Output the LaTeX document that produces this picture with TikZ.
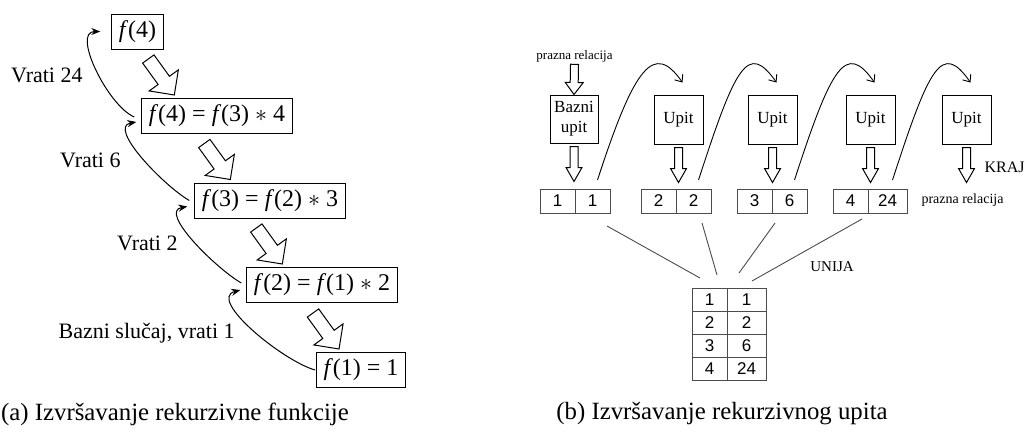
\documentclass[tikz,border=0pt]{standalone}
\usepackage{fontspec}
\setmainfont{Liberation Serif}
\newfontfamily\numfont{Liberation Sans}
\usetikzlibrary{calc,positioning,arrows.meta}
\definecolor{cellgray}{gray}{0.3}

\newcommand\blockarrow[5]{%
  \path let \p1=($#5-#4$) in \pgfextra{%
    \pgfmathparse{atan2(\y1,\x1)}\xdef\baang{\pgfmathresult}%
    \pgfmathparse{veclen(\x1,\y1)}\xdef\balen{\pgfmathresult}};
  \begin{scope}[shift={#4},rotate=\baang]
    \draw[fill=white,line width=0.5pt] (0pt,-#1pt) -- ({\balen pt-#3pt},-#1pt) -- ({\balen pt-#3pt},-#2pt)
      -- (\balen pt,0pt) -- ({\balen pt-#3pt},#2pt) -- ({\balen pt-#3pt},#1pt) -- (0pt,#1pt) -- cycle;
  \end{scope}}

\begin{document}
\begin{tikzpicture}[x=0.5pt,y=0.5pt,
    fbox/.style={draw,line width=0.5pt,minimum height=17.5pt,inner xsep=3.5pt,inner ysep=0pt,font=\fontsize{12}{14}\selectfont},
    lbl/.style={anchor=east,inner sep=0pt,font=\fontsize{11}{13}\selectfont},
    back/.style={line width=0.5pt,looseness=0.8,-{Stealth[length=4.5pt,width=3.5pt]}},
    qbox/.style={draw,line width=0.5pt,minimum width=24.5pt,minimum height=24.5pt,inner sep=0pt,align=center,font=\fontsize{8.5}{10}\selectfont},
    cell/.style={draw=cellgray,line width=0.5pt,minimum width=17.5pt,minimum height=12pt,inner sep=0pt,outer sep=0pt,font=\numfont\fontsize{8.5}{10}\selectfont},
    wide/.style={minimum width=19.5pt},
    note/.style={inner sep=0pt,font=\fontsize{6.5}{8}\selectfont},
    hop/.style={line width=0.45pt,-{Straight Barb[length=3pt,width=5pt]}},
    union/.style={line width=0.45pt,draw=cellgray},
    caption/.style={font=\fontsize{12.4}{15}\selectfont}]
\useasboundingbox (0,0) rectangle (1027,436);

\node[fbox] (f4) at (137.5,404.5) {\textit{f}(4)};
\node[fbox] (f43) at (217,320) {\textit{f}(4) = \textit{f}(3) $*$ 4};
\node[fbox] (f32) at (270,235.5) {\textit{f}(3) = \textit{f}(2) $*$ 3};
\node[fbox] (f21) at (322,151) {\textit{f}(2) = \textit{f}(1) $*$ 2};
\node[fbox] (f1) at (361,66) {\textit{f}(1) = 1};

\coordinate (h1) at ($(f43.north west)+(33,3)$);
\coordinate (h2) at ($(f32.north west)+(36,3)$);
\coordinate (h3) at ($(f21.north west)+(36,3)$);
\coordinate (h4) at ($(f1.north west)+(23,3)$);
\foreach \i in {1,...,4}{
  \coordinate (t\i) at ($(h\i)+(-26,36)$);
  \blockarrow{3.5}{9}{9}{(t\i)}{(h\i)}
}

\draw[back] ($(f43.west)+(-7,-1)$) to[out=157,in=180] ($(f4.west)+(-11,0)$);
\draw[back] ($(f32.west)+(-5,0)$) to[out=150,in=190] ($(f43.west)+(-5,-6)$);
\draw[back] ($(f21.west)+(-5,2)$) to[out=150,in=190] ($(f32.west)+(-7,-6)$);
\draw[back] ($(f1.west)+(-1,0)$) to[out=164,in=195] ($(f21.west)+(-6,-5)$);

\node[lbl] (v24) at (83,361) {Vrati 24};
\node[lbl] (v6) at (121,276) {Vrati 6};
\node[lbl] (v2) at (178,193) {Vrati 2};
\node[lbl] (v1) at (235,103) {Bazni slučaj, vrati 1};
\node[caption] (capa) at (175,22) {(a) Izvršavanje rekurzivne funkcije};

\node[note] (pr1) at (574.5,380) {prazna relacija};
\node[qbox,minimum width=24pt,minimum height=24pt] (bazni) at (574,317) {Bazni\\upit};
\foreach \i/\x in {1/678.5,2/772.5,3/870.5,4/966.5}
  \node[qbox] (upit\i) at (\x,316.5) {Upit};
\coordinate (pr1t) at ($(pr1.south)+(0,-2)$);
\blockarrow{2}{4.5}{6}{(pr1t)}{(bazni.north)}
\foreach \q in {bazni,upit1,upit2,upit3,upit4}{
  \coordinate (s\q) at ($(\q.south)+(0,-3)$);
  \coordinate (e\q) at ($(\q.south)+(0,-38)$);
  \blockarrow{2}{4}{7}{(s\q)}{(e\q)}
}

\foreach \i/\x/\l/\r in {1/557.5/1/1,2/658.5/2/2,3/754.5/3/6}{
  \node[cell] (l\i) at (\x,235) {\l};
  \node[cell,right=0pt of l\i] (r\i) {\r};
}
\node[cell] (l4) at (850.5,235) {4};
\node[cell,wide,right=0pt of l4] (r4) {24};

\foreach \l/\r [count=\i] in {1/1,2/2,3/6,4/24}{
  \node[cell,minimum height=11.5pt] (tl\i) at (709.5,159.5-23*\i) {\l};
  \node[cell,wide,minimum height=11.5pt,right=0pt of tl\i] (tr\i) {\r};
}

\draw[union] ($(r1.south)+(14.5,-13)$) -- ($(tl1.north west)+(8,10)$);
\draw[union] ($(r2.south)+(8.5,-10)$) -- ($(tl1.north east)+(-10,13)$);
\draw[union] ($(l3.south east)+(3,-10)$) -- ($(tr1.north west)+(12,15)$);
\draw[union] ($(l4.south east)+(-6,-6)$) -- ($(tr1.north)+(5.5,7)$);

\foreach \i in {1,...,4}
  \draw[hop] ($(r\i.north)+(5,9)$) .. controls +(72:120) and +(125:50) .. ($(upit\i.north)+(4,12)$);

\node[font=\fontsize{7.5}{9}\selectfont] (unija) at (832,169) {UNIJA};
\node[anchor=east,inner sep=0pt,font=\fontsize{8}{10}\selectfont] (kraj) at (1025,269) {KRAJ};
\node[note,font=\fontsize{7}{8}\selectfont] (pr2) at (962.5,236) {prazna relacija};
\node[caption] (capb) at (722,22) {(b) Izvršavanje rekurzivnog upita};
\end{tikzpicture}
\end{document}
